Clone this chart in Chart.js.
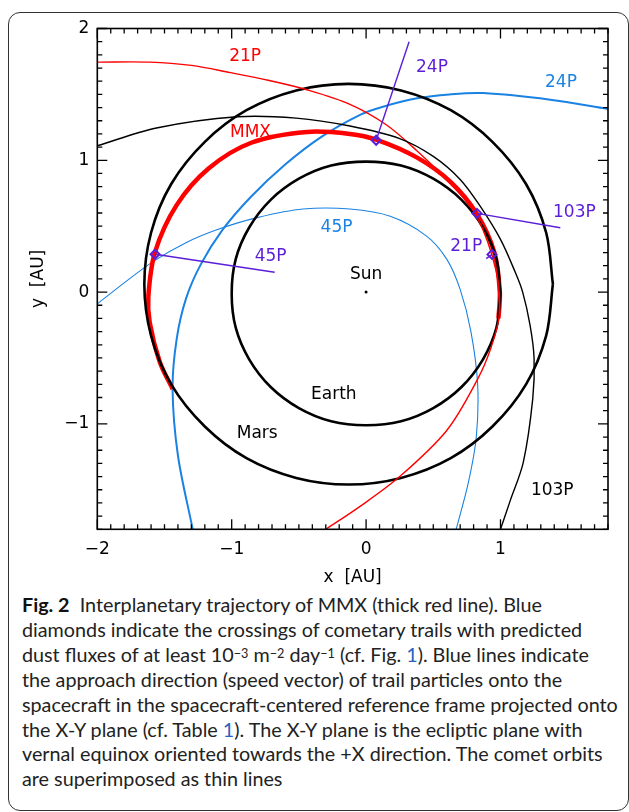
<!DOCTYPE html>
<html>
<head>
<meta charset="utf-8">
<script src="https://cdn.jsdelivr.net/npm/chart.js@4.4.0/dist/chart.umd.min.js"></script>
<style>
  html, body { margin: 0; padding: 0; background: #fff; }
  #page { position: relative; width: 629px; height: 812px; overflow: hidden; }
  #frame {
    position: absolute; left: 8px; top: 12px; width: 621px; height: 799px;
    box-sizing: border-box; border: 1px solid #333; border-radius: 12px;
  }
  #plot { position: absolute; left: 0; top: 0; width: 629px; height: 590px; }
  #caption {
    position: absolute; left: 22px; top: 592px;
    font-family: Lato, "Noto Sans", sans-serif; font-size: 20px; line-height: 24.9px;
    color: #222; white-space: nowrap;
  }
  #caption b { font-weight: 700; color: #111; }
  #caption sup { font-size: 0.64em; line-height: 0; vertical-align: 0.35em; }
  #caption .ref { color: #2a62c0; }
</style>
</head>
<body>
<div id="page">
  <div id="frame"></div>
  <div id="plot"><canvas id="orbitChart"></canvas></div>
  <div id="caption">
    <b>Fig. 2</b>&nbsp; Interplanetary trajectory of MMX (thick red line). Blue<br>
    diamonds indicate the crossings of cometary trails with predicted<br>
    dust fluxes of at least 10<sup>−3</sup> m<sup>−2</sup> day<sup>−1</sup> (cf. Fig. <span class="ref">1</span>). Blue lines indicate<br>
    the approach direction (speed vector) of trail particles onto the<br>
    <span id="longLine">spacecraft in the spacecraft-centered reference frame projected onto</span><br>
    the X-Y plane (cf. Table <span class="ref">1</span>). The X-Y plane is the ecliptic plane with<br>
    vernal equinox oriented towards the +X direction. The comet orbits<br>
    are superimposed as thin lines
  </div>
</div>
<script>
// axis ticks
const xTickValues = [-2, -1, 0, 1];
const xTickLabels = ['\u22122', '\u22121', '0', '1'];
const yTickValues = [-1, 0, 1, 2];
const yTickLabels = ['\u22121', '0', '1', '2'];

// orbits [x, y] in AU
const earthOrbit = [
  [1.00, -0.01], [0.97, 0.25], [0.87, 0.49], [0.71, 0.70], [0.50, 0.86], [0.26, 0.96],
  [0.00, 0.99], [-0.26, 0.96], [-0.50, 0.86], [-0.71, 0.70], [-0.87, 0.49], [-0.97, 0.25],
  [-1.00, -0.01], [-0.97, -0.27], [-0.87, -0.51], [-0.71, -0.72], [-0.50, -0.88], [-0.26, -0.98],
  [0.00, -1.01], [0.26, -0.98], [0.50, -0.88], [0.71, -0.72], [0.87, -0.51], [0.97, -0.27], [1.00, -0.01]
];
const marsOrbit = [
  [1.39, 0.06], [1.34, 0.45], [1.19, 0.82], [0.94, 1.14], [0.63, 1.38], [0.26, 1.53],
  [-0.13, 1.58], [-0.52, 1.53], [-0.89, 1.38], [-1.20, 1.14], [-1.45, 0.82], [-1.60, 0.45],
  [-1.65, 0.06], [-1.60, -0.33], [-1.45, -0.70], [-1.20, -1.02], [-0.89, -1.26], [-0.52, -1.41],
  [-0.13, -1.46], [0.26, -1.41], [0.63, -1.26], [0.94, -1.02], [1.19, -0.70], [1.34, -0.33], [1.39, 0.06]
];
const mmxTrajectory = [
  [0.985, -0.20], [0.995, 0.00], [0.955, 0.30], [0.82, 0.60], [0.63, 0.835], [0.38, 1.02],
  [0.08, 1.155], [-0.12, 1.20], [-0.44, 1.215], [-0.85, 1.135], [-1.17, 0.94], [-1.41, 0.66],
  [-1.57, 0.305], [-1.62, -0.03], [-1.61, -0.23], [-1.535, -0.53], [-1.44, -0.735]
];
const orbit21P = [
  [-2.00, 1.745], [-1.61, 1.745], [-1.30, 1.72], [-1.01, 1.665], [-0.72, 1.605], [-0.44, 1.535],
  [-0.12, 1.425], [0.15, 1.27], [0.38, 1.07], [0.62, 0.83], [0.82, 0.58], [0.97, 0.15],
  [0.99, -0.18], [0.93, -0.42], [0.83, -0.66], [0.60, -1.05], [0.25, -1.40], [-0.05, -1.63], [-0.30, -1.80]
];
const orbit103P = [
  [-2.00, 1.11], [-1.56, 1.245], [-0.96, 1.33], [-0.52, 1.32], [-0.12, 1.26], [0.25, 1.165],
  [0.50, 1.03], [0.70, 0.855], [0.85, 0.65], [1.00, 0.40], [1.11, 0.15], [1.165, 0.00],
  [1.22, -0.25], [1.25, -0.50], [1.24, -0.81], [1.17, -1.29], [1.07, -1.59], [1.00, -1.80]
];
const orbit24P = [
  [-1.29, -1.80], [-1.40, -1.24], [-1.44, -0.735], [-1.41, -0.36], [-1.34, -0.05], [-1.23, 0.21],
  [-1.07, 0.47], [-0.86, 0.72], [-0.60, 0.97], [-0.33, 1.18], [-0.045, 1.345], [0.12, 1.405],
  [0.38, 1.47], [0.62, 1.50], [0.87, 1.51], [1.37, 1.46], [1.80, 1.39]
];
const orbit45P = [
  [-2.00, -0.09], [-1.80, 0.07], [-1.58, 0.235], [-1.34, 0.375], [-1.09, 0.48], [-0.81, 0.565],
  [-0.47, 0.63], [-0.12, 0.63], [0.18, 0.575], [0.45, 0.425], [0.60, 0.25], [0.70, 0.02],
  [0.78, -0.30], [0.83, -0.70], [0.82, -1.10], [0.76, -1.45], [0.67, -1.80]
];

// trail crossings and approach directions
const crossings = [[-1.57, 0.287], [0.075, 1.152], [0.825, 0.597], [0.937, 0.286]];
const approach45P = [[-1.57, 0.287], [-0.68, 0.15]];
const approach24P = [[0.075, 1.152], [0.32, 1.90]];
const approach103P = [[0.825, 0.597], [1.445, 0.488]];
const approach21P = [[0.937, 0.286], [0.894, 0.254]];

// text labels [text, x, y, colour]
const RED = '#ff0000', BLUE = '#1a82e2', PURPLE = '#5a1ed8', BLACK = '#000000';
const labels = [
  ['21P', -0.90, 1.79, RED],
  ['MMX', -0.86, 1.21, RED],
  ['24P', 0.49, 1.70, PURPLE],
  ['24P', 1.45, 1.59, BLUE],
  ['45P', -0.22, 0.49, BLUE],
  ['45P', -0.71, 0.27, PURPLE],
  ['103P', 1.55, 0.60, PURPLE],
  ['21P', 0.745, 0.343, PURPLE],
  ['Sun', 0.0, 0.135, BLACK],
  ['Earth', -0.24, -0.78, BLACK],
  ['Mars', -0.81, -1.076, BLACK],
  ['103P', 1.385, -1.505, BLACK]
];

const pts = arr => arr.map(([x, y]) => ({ x, y }));

function curve(data, color, width, tension) {
  return {
    data: pts(data), showLine: true, borderColor: color, borderWidth: width,
    pointRadius: 0, tension: tension, fill: false
  };
}

// inward ticks on all four sides plus the frame, and the in-plot labels
const axesBox = {
  id: 'axesBox',
  afterDatasetsDraw(chart) {
    const { ctx, chartArea: a, scales: { x, y } } = chart;
    ctx.save();
    ctx.strokeStyle = '#000';
    ctx.lineWidth = 1.3;
    ctx.beginPath();
    for (let i = -20; i <= 18; i++) {
      const px = x.getPixelForValue(i / 10);
      const len = i % 10 === 0 ? 10 : 5;
      ctx.moveTo(px, a.bottom); ctx.lineTo(px, a.bottom - len);
      ctx.moveTo(px, a.top); ctx.lineTo(px, a.top + len);
    }
    for (let i = -18; i <= 20; i++) {
      const py = y.getPixelForValue(i / 10);
      const len = i % 10 === 0 ? 10 : 5;
      ctx.moveTo(a.left, py); ctx.lineTo(a.left + len, py);
      ctx.moveTo(a.right, py); ctx.lineTo(a.right - len, py);
    }
    ctx.stroke();
    ctx.lineWidth = 1.6;
    ctx.strokeRect(a.left, a.top, a.right - a.left, a.bottom - a.top);

    // sun
    ctx.fillStyle = '#000';
    ctx.beginPath();
    ctx.arc(x.getPixelForValue(0), y.getPixelForValue(0), 1.5, 0, Math.PI * 2);
    ctx.fill();

    ctx.font = '17px "DejaVu Sans"';
    ctx.textAlign = 'center';
    ctx.textBaseline = 'middle';
    labels.forEach(([t, lx, ly, c]) => {
      ctx.fillStyle = c;
      ctx.fillText(t, x.getPixelForValue(lx), y.getPixelForValue(ly));
    });
    ctx.restore();
  }
};

// the longest caption line runs right up to the frame in the original
function fitCaption() {
  const cap = document.getElementById('caption');
  const w = document.getElementById('longLine').getBoundingClientRect().width;
  if (w > 0) cap.style.fontSize = (20 * 596 / w).toFixed(2) + 'px';
}

function createChart() {
  fitCaption();
  Chart.defaults.font.family = '"DejaVu Sans"';
  Chart.defaults.font.size = 17;
  Chart.defaults.color = '#000';

  const T = 0.33;
  const ctx = document.getElementById('orbitChart').getContext('2d');
  new Chart(ctx, {
    type: 'scatter',
    data: {
      datasets: [
        {
          data: pts(crossings), showLine: false, pointStyle: 'rectRot', pointRadius: 4.5,
          borderColor: PURPLE, borderWidth: 2, backgroundColor: 'rgba(0,0,0,0)'
        },
        curve(approach45P, PURPLE, 1.4, 0),
        curve(approach24P, PURPLE, 1.4, 0),
        curve(approach103P, PURPLE, 1.4, 0),
        curve(approach21P, PURPLE, 1.4, 0),
        curve(orbit103P, BLACK, 1.4, T),
        curve(orbit21P, RED, 1.4, T),
        curve(earthOrbit, BLACK, 2.6, T),
        curve(marsOrbit, BLACK, 2.6, T),
        curve(mmxTrajectory, RED, 4.5, T),
        curve(orbit24P, BLUE, 2, T),
        curve(orbit45P, BLUE, 1.1, T)
      ]
    },
    options: {
      responsive: true,
      maintainAspectRatio: false,
      animation: false,
      events: [],
      layout: { padding: { left: 0, top: 28.5, right: 21, bottom: 2.7 } },
      plugins: { legend: { display: false }, tooltip: { enabled: false } },
      scales: {
        x: {
          type: 'linear', min: -2, max: 1.8,
          grid: { display: false, drawTicks: false },
          border: { display: false },
          afterBuildTicks: s => { s.ticks = xTickValues.map(v => ({ value: v })); },
          afterFit: s => { s.height = 58; },
          ticks: {
            padding: 10, maxRotation: 0,
            callback: (v) => xTickLabels[xTickValues.indexOf(v)]
          },
          title: { display: true, text: 'x  [AU]', padding: { top: 0, bottom: 0 } }
        },
        y: {
          type: 'linear', min: -1.8, max: 2.0,
          grid: { display: false, drawTicks: false },
          border: { display: false },
          afterBuildTicks: s => { s.ticks = yTickValues.map(v => ({ value: v })); },
          afterFit: s => { s.width = 97.3; },
          ticks: {
            padding: 8,
            callback: (v) => yTickLabels[yTickValues.indexOf(v)]
          },
          title: { display: true, text: 'y  [AU]', padding: { top: 28.8, bottom: 0 } }
        }
      }
    },
    plugins: [axesBox]
  });
}

window.onload = createChart;
</script>
</body>
</html>
